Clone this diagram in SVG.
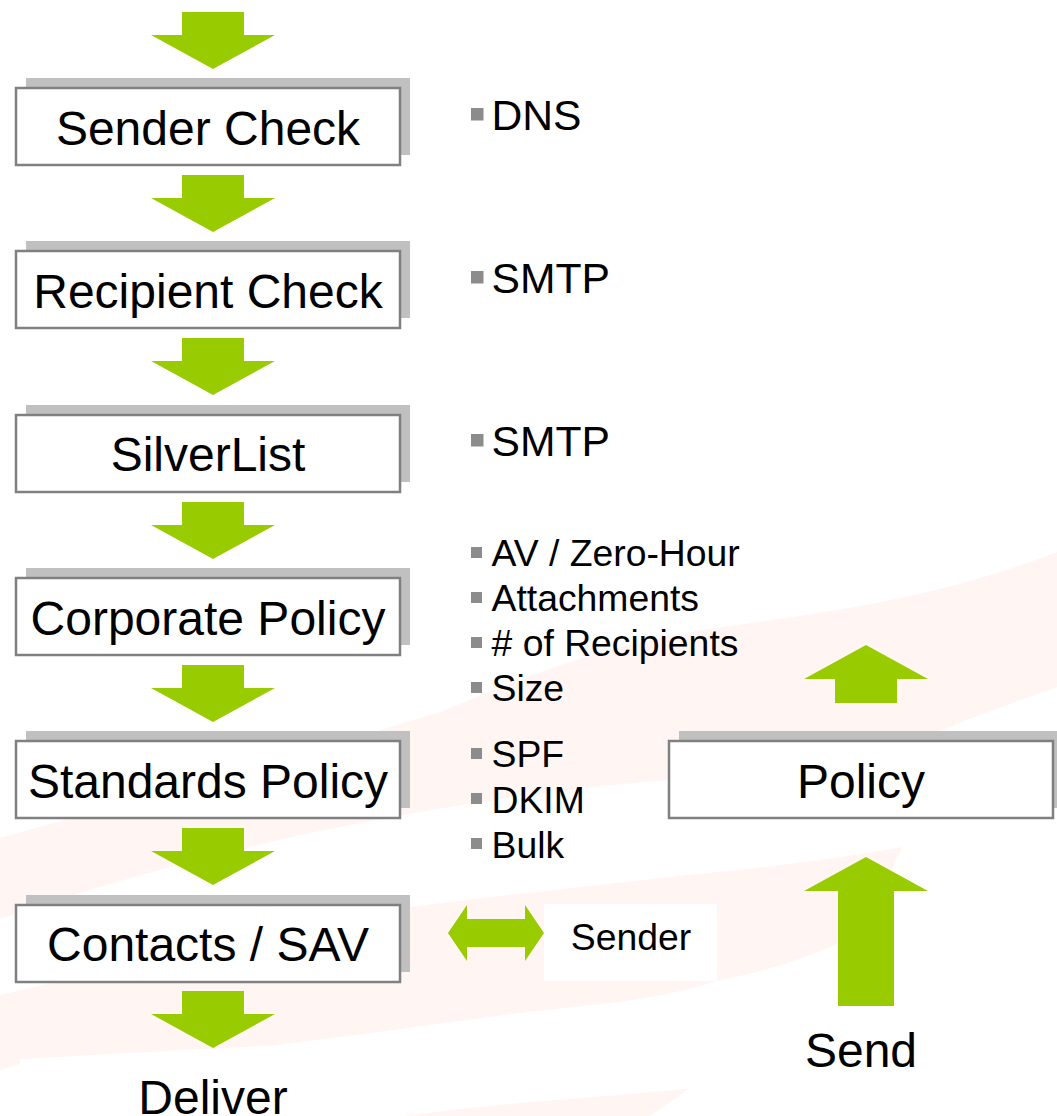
<svg xmlns="http://www.w3.org/2000/svg" width="1057" height="1116" viewBox="0 0 1057 1116">
<style>
.swoosh{fill:#fff6f4}
.shadow{fill:#c0c0c0}
.box{fill:#fff;stroke:#808080;stroke-width:2.5}
.arrow{fill:#99cc00}
.bullet{fill:#8c8c8c}
text{font-family:"Liberation Sans",Arial,sans-serif;fill:#000}
.big{font-size:48px;text-anchor:middle}
.b1{font-size:42.67px}
.b2{font-size:37.33px}
.mid{font-size:37.33px;text-anchor:middle}
</style>
<defs>
<path id="down" d="M182 12H244V35H275L213 69L151 35H182Z"/>
<g id="shadowbox"><rect class="shadow" x="26" y="78" width="384" height="77"/><rect class="box" x="16" y="88" width="384" height="77"/></g>
</defs>
<rect width="1057" height="1116" fill="#fff"/>
<g id="background">
<path class="swoosh" d="M1057 552C920 605 800 615 696 631C590 650 530 675 440 712C300 755 150 795 0 838V919C200 850 400 810 585 788C700 775 860 770 966 720L1057 687Z"/>
<path class="swoosh" d="M902 847C830 860 760 868 696 874C600 885 500 895 410 907C270 935 130 965 0 995V1070L20 1064V1059C100 1055 180 1050 269 1046C360 1035 450 1022 528 1012C590 1005 660 1000 713 982C770 970 820 955 865 930Z"/>
<path class="swoosh" d="M690 1088C640 1095 520 1100 405 1116H650Z"/>
</g>
<g id="connectors">
<use href="#down" class="arrow"/>
<use href="#down" class="arrow" y="163"/>
<use href="#down" class="arrow" y="326"/>
<use href="#down" class="arrow" y="490"/>
<use href="#down" class="arrow" y="653"/>
<use href="#down" class="arrow" y="816"/>
<use href="#down" class="arrow" y="979"/>
<path class="arrow" d="M866 645L928 679H897V703H835V679H804Z"/>
<path class="arrow" d="M866 857L928 891H894V1006H838V891H804Z"/>
<path class="arrow" d="M448 933L467 905V919H525V905L544 933L525 961V947H467V961Z"/>
</g>
<g id="sender-check"><use href="#shadowbox"/><text class="big" x="208" y="145">Sender Check</text></g>
<g id="recipient-check"><use href="#shadowbox" y="163"/><text class="big" x="208" y="308">Recipient Check</text></g>
<g id="silverlist"><use href="#shadowbox" y="327"/><text class="big" x="208" y="471">SilverList</text></g>
<g id="corporate-policy"><use href="#shadowbox" y="490"/><text class="big" x="208" y="635">Corporate Policy</text></g>
<g id="standards-policy"><use href="#shadowbox" y="653"/><text class="big" x="208" y="798">Standards Policy</text></g>
<g id="contacts-sav"><use href="#shadowbox" y="817"/><text class="big" x="208" y="961">Contacts / SAV</text></g>
<g id="policy"><use href="#shadowbox" x="653" y="653"/><text class="big" x="861" y="798">Policy</text></g>
<g id="deliver"><text class="big" x="213" y="1114">Deliver</text></g>
<g id="send"><text class="big" x="861" y="1067">Send</text></g>
<g id="sender"><rect x="544" y="904" width="173" height="77" fill="#fff"/><text class="mid" x="631" y="950">Sender</text></g>
<g id="list-dns"><rect class="bullet" x="471" y="108" width="12.5" height="12.5"/><text class="b1" x="491.5" y="130">DNS</text></g>
<g id="list-smtp-1"><rect class="bullet" x="471" y="271" width="12.5" height="12.5"/><text class="b1" x="491.5" y="293">SMTP</text></g>
<g id="list-smtp-2"><rect class="bullet" x="471" y="434" width="12.5" height="12.5"/><text class="b1" x="491.5" y="456">SMTP</text></g>
<g id="list-corporate">
<rect class="bullet" x="471" y="547" width="11" height="11"/><text class="b2" x="491.5" y="566">AV / Zero-Hour</text>
<rect class="bullet" x="471" y="592" width="11" height="11"/><text class="b2" x="491.5" y="611">Attachments</text>
<rect class="bullet" x="471" y="637" width="11" height="11"/><text class="b2" x="491.5" y="656"># of Recipients</text>
<rect class="bullet" x="471" y="682" width="11" height="11"/><text class="b2" x="491.5" y="701">Size</text>
</g>
<g id="list-standards">
<rect class="bullet" x="471" y="748" width="11" height="11"/><text class="b2" x="491.5" y="767">SPF</text>
<rect class="bullet" x="471" y="793" width="11" height="11"/><text class="b2" x="491.5" y="813">DKIM</text>
<rect class="bullet" x="471" y="838" width="11" height="11"/><text class="b2" x="491.5" y="858">Bulk</text>
</g>
</svg>
